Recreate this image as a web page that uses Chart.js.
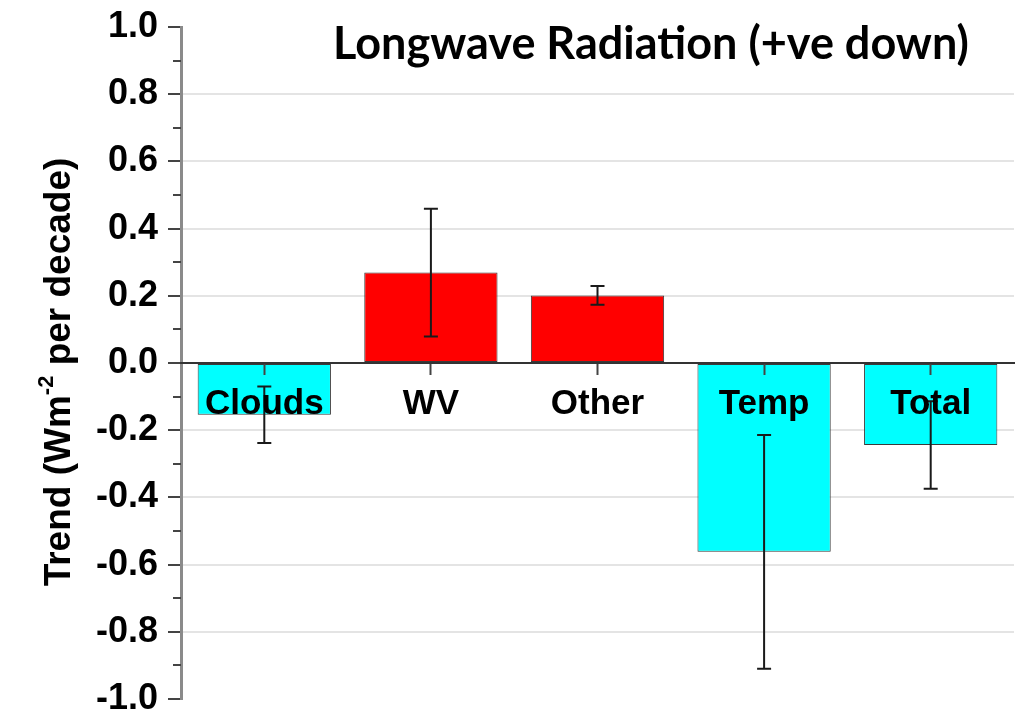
<!DOCTYPE html>
<html>
<head>
<meta charset="utf-8">
<script src="https://cdn.jsdelivr.net/npm/chart.js@4.4.0/dist/chart.umd.min.js"></script>
<style>
  html, body { margin: 0; padding: 0; background: #fff; }
  #wrap { width: 1026px; height: 720px; }
</style>
</head>
<body>
<div id="wrap"><canvas id="lwChart" width="1026" height="720"></canvas></div>
<script>
const categories = ['Clouds', 'WV', 'Other', 'Temp', 'Total'];
const trend = [-0.154, 0.269, 0.201, -0.562, -0.244];
const trendErr = [0.084, 0.19, 0.028, 0.348, 0.13];
const barColours = ['#00ffff', '#ff0000', '#ff0000', '#00ffff', '#00ffff'];
const yMin = -1.0, yMax = 1.0, yStep = 0.2;

const boldSans = '"Liberation Sans", Arial, sans-serif';

// error bars on top of the bars
const errorBars = {
  id: 'errorBars',
  afterDatasetsDraw(chart) {
    const { ctx, scales: { x, y } } = chart;
    ctx.save();
    ctx.strokeStyle = '#1a1a1a';
    ctx.lineWidth = 2;
    trend.forEach((v, i) => {
      const cx = x.getPixelForValue(i);
      const top = y.getPixelForValue(v + trendErr[i]);
      const bot = y.getPixelForValue(v - trendErr[i]);
      ctx.beginPath();
      ctx.moveTo(cx, top); ctx.lineTo(cx, bot);
      ctx.moveTo(cx - 7, top); ctx.lineTo(cx + 7, top);
      ctx.moveTo(cx - 7, bot); ctx.lineTo(cx + 7, bot);
      ctx.stroke();
    });
    ctx.restore();
  }
};

// minor ticks, y title with superscript, chart heading
const decorations = {
  id: 'decorations',
  afterDraw(chart) {
    const { ctx, chartArea, scales: { y } } = chart;
    ctx.save();
    ctx.strokeStyle = '#444';
    ctx.lineWidth = 2;
    for (let v = yMin + yStep / 2; v < yMax; v += yStep) {
      const py = Math.round(y.getPixelForValue(v));
      ctx.beginPath();
      ctx.moveTo(chartArea.left - 8, py);
      ctx.lineTo(chartArea.left, py);
      ctx.stroke();
    }

    // rotated axis title
    ctx.fillStyle = '#000';
    ctx.translate(70, (chartArea.top + chartArea.bottom) / 2 + 9);
    ctx.rotate(-Math.PI / 2);
    ctx.textBaseline = 'alphabetic';
    const mainFont = 'bold 37px ' + boldSans;
    const supFont = 'bold 22px ' + boldSans;
    const parts = [
      { t: 'Trend (Wm', f: mainFont, dy: 0 },
      { t: '-2', f: supFont, dy: -17 },
      { t: ' per decade)', f: mainFont, dy: 0 }
    ];
    let total = 0;
    parts.forEach(p => { ctx.font = p.f; p.w = ctx.measureText(p.t).width; total += p.w; });
    let px = -total / 2;
    parts.forEach(p => {
      ctx.font = p.f;
      ctx.fillText(p.t, px, p.dy);
      px += p.w;
    });
    ctx.restore();

    ctx.save();
    ctx.fillStyle = '#000';
    ctx.font = 'bold 45px Lato, "Open Sans", sans-serif';
    ctx.textAlign = 'center';
    ctx.textBaseline = 'alphabetic';
    ctx.fillText('Longwave Radiation (+ve down)', 651, 59);
    ctx.restore();
  }
};

new Chart(document.getElementById('lwChart'), {
  type: 'bar',
  data: {
    labels: categories,
    datasets: [{
      data: trend,
      backgroundColor: barColours,
      borderColor: '#3a3a3a',
      borderWidth: 1,
      borderSkipped: false,
      barPercentage: 0.8,
      categoryPercentage: 1.0
    }]
  },
  options: {
    responsive: false,
    animation: false,
    layout: { padding: { left: 0, top: 27, right: 12, bottom: 21 } },
    plugins: {
      legend: { display: false },
      tooltip: { enabled: false }
    },
    scales: {
      x: {
        position: { y: 0 },
        grid: { z: 1, drawOnChartArea: false, offset: false, tickLength: 11, tickColor: '#444', tickWidth: 2 },
        border: { z: 1, color: '#333', width: 2 },
        ticks: {
          z: 2,
          color: '#000',
          padding: 9,
          font: { family: boldSans, size: 35, weight: 'bold' }
        }
      },
      y: {
        min: yMin,
        max: yMax,
        afterFit(scale) {
          scale.width = 181;
          scale.paddingTop = 0;
          scale.paddingBottom = 0;
        },
        border: { color: '#8a8a8a', width: 3 },
        grid: {
          color: ctx => {
            const v = ctx.tick ? ctx.tick.value : 0;
            if (Math.abs(v) < 1e-9 || Math.abs(Math.abs(v) - 1) < 1e-9) return 'rgba(0,0,0,0)';
            return '#e4e4e4';
          },
          lineWidth: 2,
          tickColor: '#444',
          tickLength: 13,
          tickWidth: 2
        },
        ticks: {
          stepSize: yStep,
          color: '#000',
          padding: 10,
          font: { family: boldSans, size: 36, weight: 'bold' },
          callback: v => v.toFixed(1)
        }
      }
    }
  },
  plugins: [errorBars, decorations]
});
</script>
</body>
</html>
